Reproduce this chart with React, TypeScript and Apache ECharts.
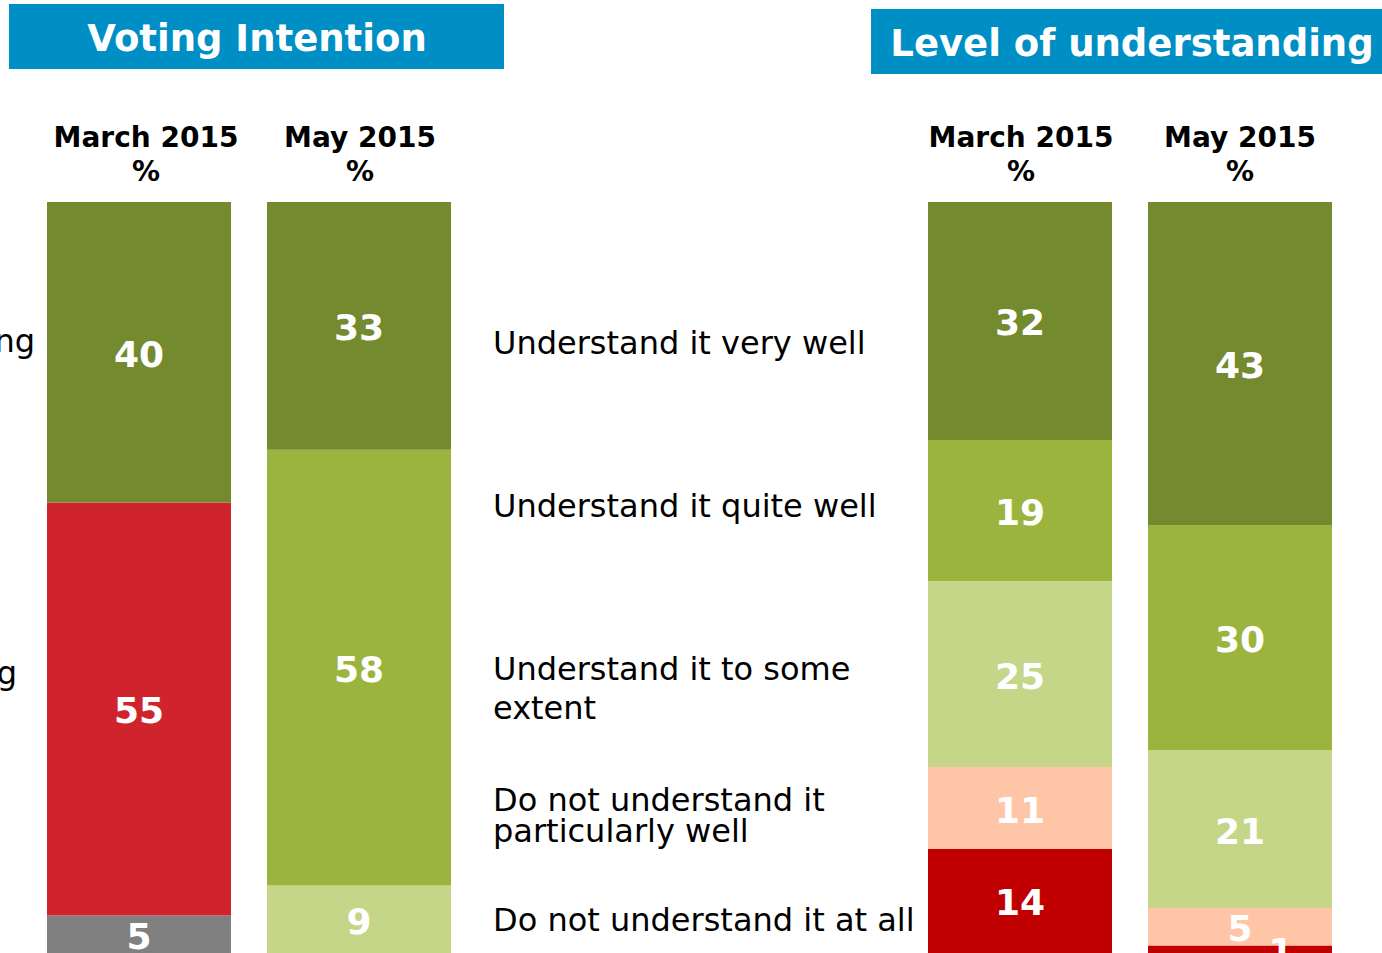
import React, { useEffect, useRef } from "react";
import * as echarts from "echarts";

// ---- Data ----
const panelTitles = ["Voting Intention", "Level of understanding"];
const periods = ["March 2015", "May 2015"];
const intentionSideLabels = ["ng", "g"]; // visible (cropped) fragments on the left edge

// Voting intention, bottom to top
const intentionMarch = [5, 55, 40];
const intentionMay = [9, 58, 33];

// Level of understanding, top to bottom
const understandingLevels = [
  "Understand it very well",
  "Understand it quite well",
  "Understand it to some\nextent",
  "Do not understand it\nparticularly well",
  "Do not understand it at all",
];
const understandingMarch = [32, 19, 25, 11, 14];
const understandingMay = [43, 30, 21, 5, 1];

// ---- Styling ----
const FONT = "'DejaVu Sans', Verdana, sans-serif";
const C_DARK = "#748A2F";
const C_MID = "#9BB43E";
const C_LIGHT = "#C5D688";
const C_PEACH = "#FEC5A6";
const C_DRED = "#C00000";
const C_RED = "#CF242C";
const C_GRAY = "#808080";
const C_BLUE = "#008FC5";

const intentionMarchColors = [C_GRAY, C_RED, C_DARK];
const intentionMayColors = [C_LIGHT, C_MID, C_DARK];
const understandingColors = [C_DARK, C_MID, C_LIGHT, C_PEACH, C_DRED];

export default function App() {
  const ref = useRef<HTMLDivElement>(null);

  useEffect(() => {
    if (!ref.current) return;
    const chart = echarts.init(ref.current, undefined, { renderer: "svg" });

    const gridLefts = [47, 267, 928, 1148];
    const grids = gridLefts.map((l) => ({ left: l, top: 202, width: 184, height: 751 }));

    const headerCats = [periods[0], periods[1], periods[0], periods[1]];
    const headerPad = [[0, 0, 0, 14], [0, 0, 0, 2], [0, 0, 0, 2], [0, 0, 0, 0]];
    const xAxes = headerCats.map((p, i) => ({
      type: "category",
      gridIndex: i,
      position: "top",
      data: [p],
      axisLine: { show: false },
      axisTick: { show: false },
      axisLabel: {
        formatter: (v: string) => v + "\n%",
        fontFamily: FONT,
        fontWeight: "bold",
        fontSize: 28,
        lineHeight: 34,
        color: "#000",
        margin: 14,
        padding: headerPad[i],
      },
    }));

    const sums = [
      intentionMarch.reduce((a, b) => a + b, 0),
      intentionMay.reduce((a, b) => a + b, 0),
      understandingMarch.reduce((a, b) => a + b, 0),
      understandingMay.reduce((a, b) => a + b, 0),
    ];
    const yAxes = sums.map((s, i) => ({
      type: "value",
      gridIndex: i,
      min: 0,
      max: Math.max(100, s),
      show: false,
    }));

    const series: any[] = [];
    const addStack = (values: number[], colors: string[], gi: number) => {
      values.forEach((v, k) => {
        series.push({
          type: "bar",
          xAxisIndex: gi,
          yAxisIndex: gi,
          stack: "s" + gi,
          barWidth: "100%",
          data: [v],
          itemStyle: { color: colors[k] },
          label: {
            show: true,
            position: "inside",
            color: "#fff",
            fontFamily: FONT,
            fontWeight: "bold",
            fontSize: 36,
            offset: v < 3 ? [41, 2] : [0, 2],
          },
        });
      });
    };
    addStack(intentionMarch, intentionMarchColors, 0);
    addStack(intentionMay, intentionMayColors, 1);
    // understanding arrays are top-to-bottom; stack from bottom
    addStack([...understandingMarch].reverse(), [...understandingColors].reverse(), 2);
    addStack([...understandingMay].reverse(), [...understandingColors].reverse(), 3);

    const levelY = [343, 506, 688, 815, 920];
    const levelLH = [36, 36, 39, 31, 36];
    const graphic: any[] = [
      { type: "rect", shape: { x: 9, y: 4, width: 495, height: 65 }, style: { fill: C_BLUE } },
      {
        type: "text",
        style: {
          text: panelTitles[0], x: 257, y: 38, textAlign: "center", textVerticalAlign: "middle",
          fill: "#fff", font: `bold 37px ${FONT}`,
        },
      },
      { type: "rect", shape: { x: 871, y: 9, width: 520, height: 65 }, style: { fill: C_BLUE } },
      {
        type: "text",
        style: {
          text: panelTitles[1], x: 1132, y: 43, textAlign: "center", textVerticalAlign: "middle",
          fill: "#fff", font: `bold 37px ${FONT}`,
        },
      },
      {
        type: "text",
        style: {
          text: intentionSideLabels[0], x: 35, y: 341, textAlign: "right", textVerticalAlign: "middle",
          fill: "#000", font: `32px ${FONT}`,
        },
      },
      {
        type: "text",
        style: {
          text: intentionSideLabels[1], x: 17, y: 673, textAlign: "right", textVerticalAlign: "middle",
          fill: "#000", font: `32px ${FONT}`,
        },
      },
      ...understandingLevels.map((t, i) => ({
        type: "text",
        style: {
          text: t, x: 493, y: levelY[i], textAlign: "left", textVerticalAlign: "middle",
          fill: "#000", font: `32px ${FONT}`, lineHeight: levelLH[i],
        },
      })),
    ];

    chart.setOption({
      animation: false,
      grid: grids,
      xAxis: xAxes,
      yAxis: yAxes,
      series,
      graphic,
    });

    return () => chart.dispose();
  }, []);

  return (
    <div
      ref={ref}
      style={{ position: "fixed", left: 0, top: 0, width: 1382, height: 953, background: "#fff" }}
    />
  );
}
